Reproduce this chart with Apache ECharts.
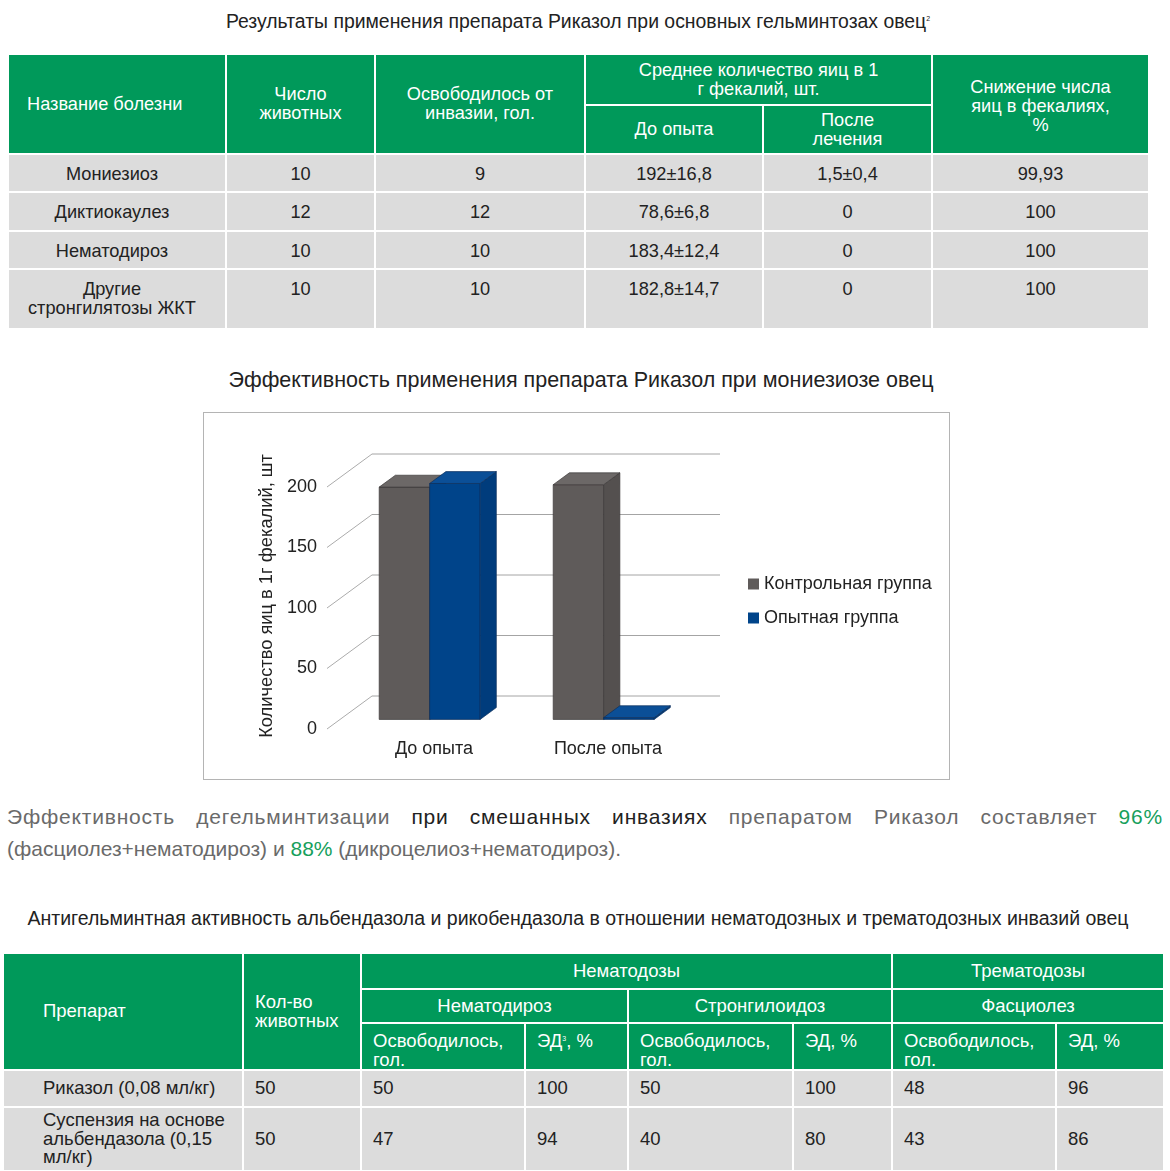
<!DOCTYPE html>
<html><head><meta charset="utf-8">
<script src="https://cdn.jsdelivr.net/npm/echarts@6/dist/echarts.min.js"></script>
<style>
body{margin:0;width:1170px;height:1171px;position:relative;background:#fff;font-family:"Liberation Sans",Arial,sans-serif;color:#222;overflow:hidden}
.abs{position:absolute}
table{border-collapse:collapse;table-layout:fixed;position:absolute}
td{border:2px solid #fff;padding:0;overflow:hidden}
.t1 td{font-size:18.2px;line-height:19px}
.t1 .h{background:#00995a;color:#fff;text-align:center;vertical-align:middle}
.t1 .d{background:#dcdcdc;text-align:center;vertical-align:top;padding-top:10px}
.t3 td{font-size:18.5px;line-height:18.5px}
.t3 .h{background:#00995a;color:#fff;text-align:left;vertical-align:middle;padding-left:11px}
.t3 .c{text-align:center;padding-left:0}
.t3 .tp{vertical-align:top;padding-top:8px}
.t3 .d{background:#dcdcdc;text-align:left;vertical-align:middle;padding-left:11px}
sup{font-size:7px;vertical-align:top;position:relative;top:-2px}
#chartBox{position:absolute;left:203px;top:412px;width:747px;height:368px;border:1px solid #b4b4b4;box-sizing:border-box}
#chart{position:absolute;left:0;top:0;width:745px;height:366px}
.para{position:absolute;left:7px;width:1156px;font-size:21px;color:#6a6a6a;white-space:nowrap}
.g{color:#17a05c}.k{color:#222}
</style></head>
<body>
<div class="abs" style="left:0;top:9px;width:1156px;text-align:center;font-size:19.4px;line-height:24px">Результаты применения препарата Риказол при основных гельминтозах овец<sup>2</sup></div>

<table class="t1" style="left:7px;top:53px;width:1141px">
<colgroup><col style="width:218px"><col style="width:149px"><col style="width:210px"><col style="width:178px"><col style="width:169px"><col style="width:217px"></colgroup>
<tr style="height:51px">
<td rowspan="2" class="h" style="text-align:left;padding-left:18px">Название болезни</td>
<td rowspan="2" class="h">Число<br>животных</td>
<td rowspan="2" class="h">Освободилось от<br>инвазии, гол.</td>
<td colspan="2" class="h">Среднее количество яиц в 1<br>г фекалий, шт.</td>
<td rowspan="2" class="h" style="padding-top:4px">Снижение числа<br>яиц в фекалиях,<br>%</td>
</tr>
<tr style="height:49px"><td class="h">До опыта</td><td class="h">После<br>лечения</td></tr>
<tr style="height:38px"><td class="d" style="padding-right:10px">Мониезиоз</td><td class="d">10</td><td class="d">9</td><td class="d">192±16,8</td><td class="d">1,5±0,4</td><td class="d">99,93</td></tr>
<tr style="height:39px"><td class="d" style="padding-right:10px">Диктиокаулез</td><td class="d">12</td><td class="d">12</td><td class="d">78,6±6,8</td><td class="d">0</td><td class="d">100</td></tr>
<tr style="height:38px"><td class="d" style="padding-right:10px">Нематодироз</td><td class="d">10</td><td class="d">10</td><td class="d">183,4±12,4</td><td class="d">0</td><td class="d">100</td></tr>
<tr style="height:60px"><td class="d" style="padding-right:10px">Другие<br>стронгилятозы ЖКТ</td><td class="d">10</td><td class="d">10</td><td class="d">182,8±14,7</td><td class="d">0</td><td class="d">100</td></tr>
</table>

<div class="abs" style="left:0;top:367px;width:1162px;text-align:center;font-size:21.5px;line-height:26px">Эффективность применения препарата Риказол при мониезиозе овец</div>

<div id="chartBox"><div id="chart"></div></div>

<div class="para" style="top:803px;line-height:28px;letter-spacing:0.8px;text-align:justify;text-align-last:justify;white-space:normal">Эффективность дегельминтизации <span class="k">при смешанных инвазиях</span> препаратом Риказол составляет <span class="g">96%</span></div>
<div class="para" style="top:835px;line-height:28px">(фасциолез+нематодироз) и <span class="g">88%</span> (дикроцелиоз+нематодироз).</div>

<div class="abs" style="left:0;top:906px;width:1156px;text-align:center;font-size:19.5px;line-height:24px">Антигельминтная активность альбендазола и рикобендазола в отношении нематодозных и трематодозных инвазий овец</div>

<table class="t3" style="left:2px;top:952px;width:1161px">
<colgroup><col style="width:240px"><col style="width:118px"><col style="width:164px"><col style="width:103px"><col style="width:165px"><col style="width:99px"><col style="width:164px"><col style="width:108px"></colgroup>
<tr style="height:36px">
<td rowspan="3" class="h" style="padding-left:39px">Препарат</td>
<td rowspan="3" class="h">Кол-во<br>животных</td>
<td colspan="4" class="h c">Нематодозы</td>
<td colspan="2" class="h c">Трематодозы</td>
</tr>
<tr style="height:34px"><td colspan="2" class="h c">Нематодироз</td><td colspan="2" class="h c">Стронгилоидоз</td><td colspan="2" class="h c">Фасциолез</td></tr>
<tr style="height:47px">
<td class="h tp">Освободилось,<br>гол.</td><td class="h tp">ЭД<sup>3</sup>, %</td>
<td class="h tp">Освободилось,<br>гол.</td><td class="h tp">ЭД, %</td>
<td class="h tp">Освободилось,<br>гол.</td><td class="h tp">ЭД, %</td>
</tr>
<tr style="height:37px"><td class="d" style="padding-left:39px">Риказол (0,08 мл/кг)</td><td class="d">50</td><td class="d">50</td><td class="d">100</td><td class="d">50</td><td class="d">100</td><td class="d">48</td><td class="d">96</td></tr>
<tr style="height:64px"><td class="d" style="padding-left:39px">Суспензия на основе<br>альбендазола (0,15<br>мл/кг)</td><td class="d">50</td><td class="d">47</td><td class="d">94</td><td class="d">40</td><td class="d">80</td><td class="d">43</td><td class="d">86</td></tr>
</table>

<script>
const categories = ['До опыта', 'После опыта'];
const seriesNames = ['Контрольная группа', 'Опытная группа'];
const controlGroup = [192, 194];
const experimentalGroup = [195, 1.5];
const yTicks = [0, 50, 100, 150, 200];

const DX = 45, DY = 33;   // wall depth (px)
const F = 0.29;           // bar front-face depth fraction
const BD = 0.36;          // bar depth fraction
const palettes = [
  {front: '#5f5b5a', top: '#6c6867', side: '#54504f', edge: '#3c3a3a'},
  {front: '#00448a', top: '#0b4f97', side: '#003c7c', edge: '#0d2f5c'}
];

function wallItem(params, api) {
  const cs = params.coordSys;
  const y = api.coord([0, api.value(1)])[1];
  const x0 = cs.x, x1 = cs.x + cs.width;
  return {type: 'group', children: [
    {type: 'line', shape: {x1: x0, y1: y, x2: x0 + DX, y2: y - DY}, style: {stroke: '#ababab', lineWidth: 1}},
    {type: 'line', shape: {x1: x0 + DX, y1: y - DY, x2: x1 + DX, y2: y - DY}, style: {stroke: '#a4a4a4', lineWidth: 1}}
  ]};
}

function barRenderer(slot, pal) {
  return function (params, api) {
    const cat = api.value(0), v = api.value(1);
    const base = api.coord([cat, 0]);
    const topP = api.coord([cat, v]);
    const band = api.size([1, 0])[0];
    const w = band * 0.29;
    const x0 = base[0] + (slot - 1) * w + band * 0.015 + F * DX;
    const yb = base[1] - F * DY, yt = topP[1] - F * DY;
    const dx = BD * DX, dy = BD * DY;
    const st = (fill) => ({fill: fill, stroke: pal.edge, lineWidth: 0.7});
    return {type: 'group', children: [
      {type: 'polygon', shape: {points: [[x0, yb], [x0 + w, yb], [x0 + w, yt], [x0, yt]]}, style: st(pal.front)},
      {type: 'polygon', shape: {points: [[x0 + w, yb], [x0 + w + dx, yb - dy], [x0 + w + dx, yt - dy], [x0 + w, yt]]}, style: st(pal.side)},
      {type: 'polygon', shape: {points: [[x0, yt], [x0 + w, yt], [x0 + w + dx, yt - dy], [x0 + dx, yt - dy]]}, style: st(pal.top)}
    ]};
  };
}

const chart = echarts.init(document.getElementById('chart'), null, {renderer: 'canvas'});
chart.setOption({
  animation: false,
  textStyle: {fontFamily: '"Liberation Sans", Arial, sans-serif'},
  grid: {left: 123, top: 74, width: 348, height: 242},
  legend: {
    data: seriesNames, orient: 'vertical', left: 539, top: 157, itemWidth: 11, itemHeight: 11, itemGap: 16,
    icon: 'rect', textStyle: {fontSize: 18, color: '#222'}
  },
  xAxis: {
    type: 'category', data: categories,
    axisLine: {show: false}, axisTick: {show: false}, splitLine: {show: false},
    axisLabel: {fontSize: 18, color: '#222', margin: 11, padding: [0, 0, 0, 40]}
  },
  yAxis: {
    type: 'value', min: 0, max: 200, interval: 50,
    name: 'Количество яиц в 1г фекалий, шт', nameLocation: 'middle', nameGap: 51,
    nameTextStyle: {fontSize: 18.3, color: '#222', padding: [0, 0, 0, 24]},
    axisLine: {show: false}, axisTick: {show: false}, splitLine: {show: false},
    axisLabel: {fontSize: 18, color: '#222', margin: 10, padding: [0, 0, 8, 0]}
  },
  series: [
    {type: 'custom', silent: true, clip: false, z: 1, renderItem: wallItem,
     data: yTicks.map(v => [0, v])},
    {type: 'custom', name: seriesNames[0], clip: false, z: 2, itemStyle: {color: palettes[0].front},
     renderItem: barRenderer(0, palettes[0]), data: controlGroup.map((v, i) => [i, v])},
    {type: 'custom', name: seriesNames[1], clip: false, z: 3, itemStyle: {color: palettes[1].front},
     renderItem: barRenderer(1, palettes[1]), data: experimentalGroup.map((v, i) => [i, v])}
  ]
});
</script>
</body></html>
